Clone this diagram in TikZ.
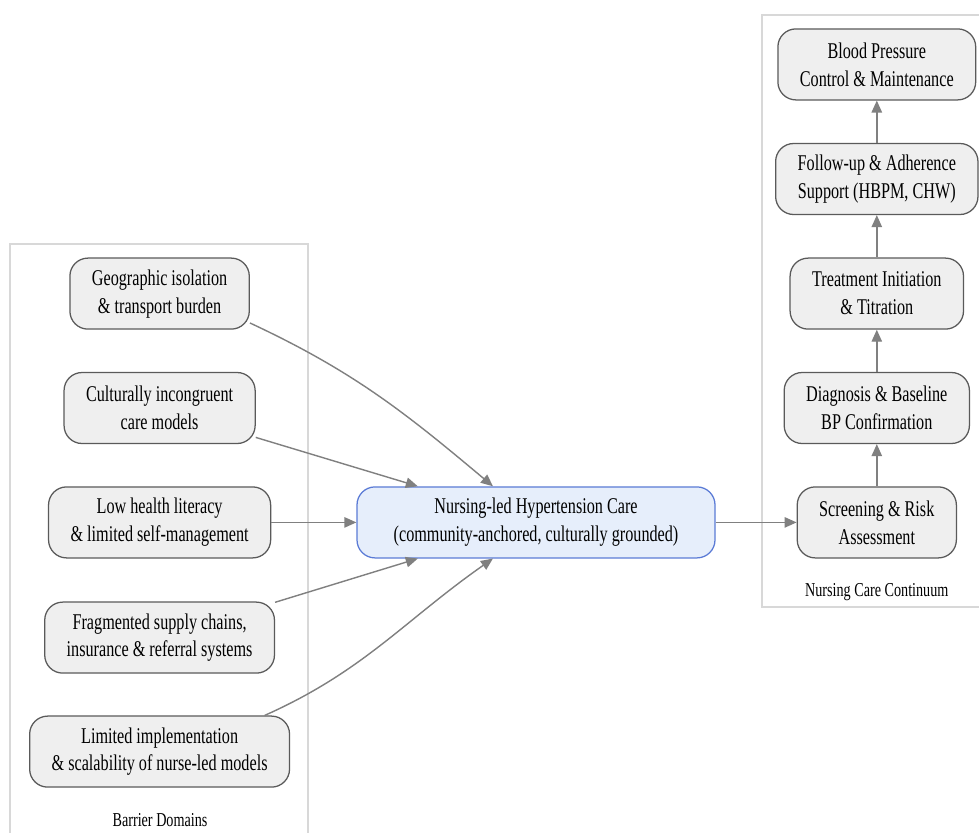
\documentclass[tikz,border=0pt]{standalone}
\usepackage{fontspec}
\setmainfont{Liberation Serif}[FakeStretch=0.72]
\usetikzlibrary{arrows.meta}
\definecolor{boxfill}{HTML}{EFEFEF}
\definecolor{boxline}{HTML}{5A5A5A}
\definecolor{carefill}{HTML}{E6EEFB}
\definecolor{careline}{HTML}{5B7BD6}
\definecolor{arrowgray}{HTML}{808080}
\definecolor{clusterline}{HTML}{D8D8D8}
\begin{document}
\begin{tikzpicture}[
    stage/.style={draw=boxline, fill=boxfill, line width=0.9pt, rounded corners=0.45cm,
      align=center, minimum height=1.775cm, inner xsep=0.55cm, text=black,
      font=\fontsize{16}{19.9}\selectfont},
    care/.style={stage, draw=careline, fill=carefill, minimum width=8.95cm},
    flow/.style={draw=arrowgray, line width=1pt, -{Triangle[length=0.3cm,width=0.26cm]}},
    cluster/.style={draw=clusterline, line width=0.8pt},
    caption/.style={font=\fontsize{14}{17}\selectfont, text=black}]
    \useasboundingbox (0,0) rectangle (24.475,-20.8);
    \clip (0,0) rectangle (24.475,-20.8);
    \fill[white] (0,0) rectangle (24.475,-20.8);
    \draw[cluster] (0.25,-6.1) rectangle (7.7,-21.5);
    \draw[cluster] (19.05,-0.375) rectangle (25,-15.175);
    \node[caption] (barlabel) at (4,-20.5) {Barrier Domains};
    \node[caption] (contlabel) at (21.92,-14.8) {Nursing Care Continuum};
    \node[stage] (geo) at (3.99,-7.34) {Geographic isolation\\\& transport burden};
    \node[stage] (cult) at (3.99,-10.2) {Culturally incongruent\\care models};
    \node[stage] (lit) at (3.99,-13.06) {Low health literacy\\\& limited self-management};
    \node[stage] (frag) at (3.99,-15.94) {Fragmented supply chains,\\insurance \& referral systems};
    \node[stage] (impl) at (3.99,-18.79) {Limited implementation\\\& scalability of nurse-led models};
    \node[care] (nlhc) at (13.4,-13.06) {Nursing-led Hypertension Care\\(community-anchored, culturally grounded)};
    \node[stage] (screen) at (21.92,-13.06) {Screening \& Risk\\Assessment};
    \node[stage] (diag) at (21.92,-10.2) {Diagnosis \& Baseline\\BP Confirmation};
    \node[stage] (treat) at (21.92,-7.34) {Treatment Initiation\\\& Titration};
    \node[stage] (follow) at (21.92,-4.475) {Follow-up \& Adherence\\Support (HBPM, CHW)};
    \node[stage] (control) at (21.92,-1.61) {Blood Pressure\\Control \& Maintenance};
    \draw[flow] (geo.-18) to[out=-25,in=140] (nlhc.140);
    \draw[flow] (cult.-17) -- (nlhc.163);
    \draw[flow] (lit) -- (nlhc);
    \draw[flow] (frag.17) -- (nlhc.197);
    \draw[flow] (impl.19.5) to[out=24,in=-145] (nlhc.220);
    \draw[flow] (nlhc) -- (screen);
    \draw[flow] (screen) -- (diag);
    \draw[flow] (diag) -- (treat);
    \draw[flow] (treat) -- (follow);
    \draw[flow] (follow) -- (control);
\end{tikzpicture}
\end{document}
